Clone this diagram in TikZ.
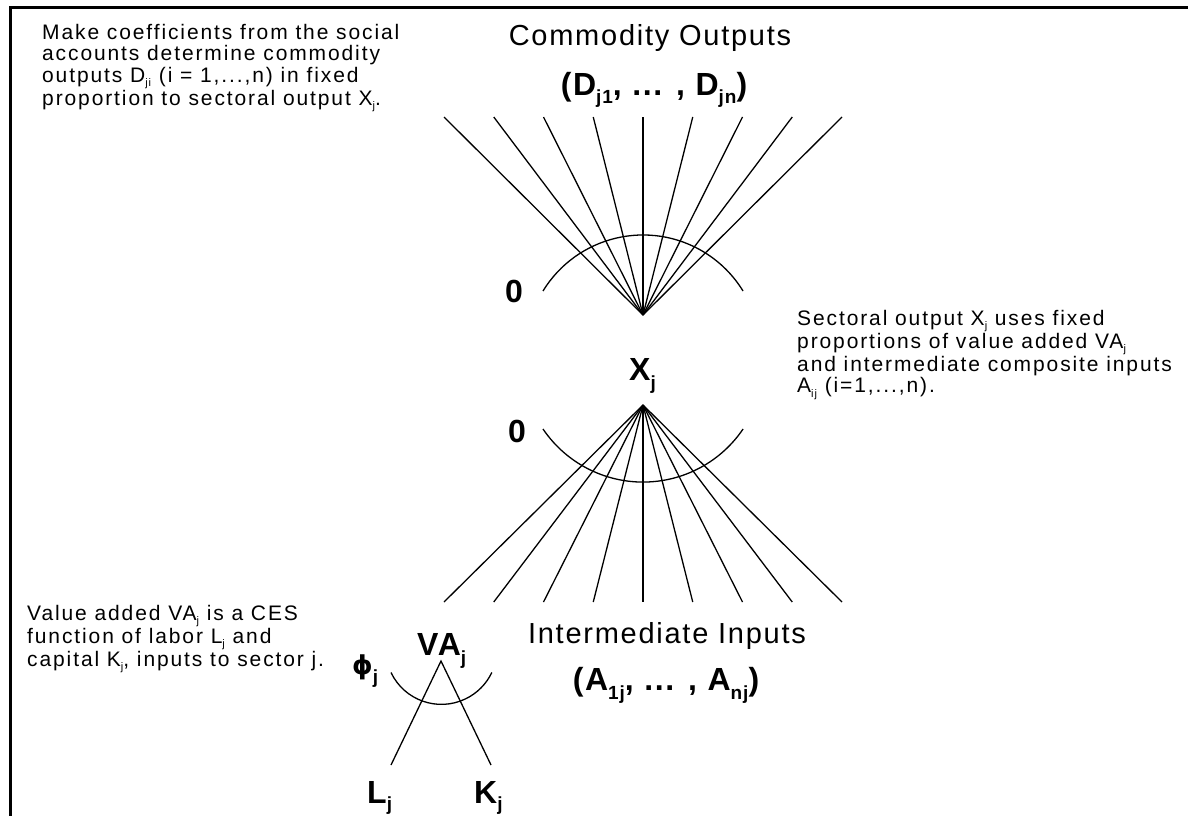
\documentclass[tikz,border=0pt]{standalone}
\usepackage{fontspec}
\newfontfamily\txtf{Liberation Sans}[LetterSpace=9]
\newfontfamily\labf{Liberation Sans}[LetterSpace=6]
\newfontfamily\labbf{Liberation Sans Bold}[LetterSpace=5]
\newfontfamily\phif{DejaVu Sans Bold}
\newcommand\ssb[1]{\raisebox{-4.5pt}{\fontsize{11}{11}\selectfont #1}}
\newcommand\bsb[1]{\raisebox{-9pt}{\fontsize{19}{19}\selectfont #1}}
\tikzset{
  txt/.style={font={\txtf\fontsize{21}{21.3}\selectfont}, align=left, inner sep=0pt, anchor=north west},
  lab/.style={font={\labf\fontsize{29}{31}\selectfont}, inner sep=0pt, anchor=base},
  blab/.style={font={\labbf\fontsize{32}{34}\selectfont}, inner sep=0pt, anchor=base west},
  ray/.style={line width=1.3pt},
  border/.style={line width=3pt}
}
\begin{document}
\begin{tikzpicture}[x=1pt,y=-1pt]
\useasboundingbox (0,0) rectangle (1188,816);
% frame
\coordinate (fb) at (10.5,816);
\coordinate (fc) at (10.5,7.5);
\coordinate (fr) at (1188,7.5);
\draw[border] (fb) -- (fc) -- (fr);

% texts
\node[txt] (t1) at (42,24) {Make coefficients from the social\\accounts determine commodity\\outputs D\ssb{ji} (i = 1,...,n) in fixed\\proportion to sectoral output X\ssb{j}.};
\node[txt] (t2) at (797,310) {Sectoral output X\ssb{j} uses fixed\\proportions of value added VA\ssb{j}\\and intermediate composite inputs\\A\ssb{ij} (i=1,...,n).};
\node[txt] (t3) at (27,605) {Value added VA\ssb{j} is a CES\\function of labor L\ssb{j} and\\capital K\ssb{j}, inputs to sector j.};

% labels
\node[lab] (co) at (650,46) {Commodity Outputs};
\node[blab,anchor=base] (dd) at (654,95) {(D\bsb{j1}, ... , D\bsb{jn})};
\node[blab,anchor=center] (z1) at (514,291) {0};
\node[blab] (xj) at (629,380) {X\bsb{j}};
\node[blab,anchor=center] (z2) at (517,431) {0};
\node[blab] (va) at (417,655) {VA\bsb{j}};
\node[blab,font={\phif\fontsize{26}{28}\selectfont}] (phi) at (352,674) {ϕ\bsb{\labbf j}};
\node[lab] (ii) at (667,643) {Intermediate Inputs};
\node[blab,anchor=base] (aa) at (666,690) {(A\bsb{1j}, ... , A\bsb{nj})};
\node[blab] (lj) at (367,803) {L\raisebox{-7pt}{\fontsize{19}{19}\selectfont j}};
\node[blab] (kj) at (474,803) {K\raisebox{-7pt}{\fontsize{19}{19}\selectfont j}};

% upper fan
\coordinate (up) at (643,315);
\foreach \i in {0,...,8}{
  \coordinate (u\i) at ({444+49.75*\i},117);
  \draw[ray] (up) -- (u\i);
}
\coordinate (ua) at (543,291);
\draw[ray] (ua) arc[start angle=-148.5, end angle=-31.5, radius=117.3];

% lower fan
\coordinate (lo) at (643,405);
\foreach \i in {0,...,8}{
  \coordinate (l\i) at ({444+49.75*\i},602);
  \draw[ray] (lo) -- (l\i);
}
\coordinate (la) at (543,429);
\draw[ray] (la) arc[start angle=145.9, end angle=34.1, radius=120.8];

% value added nest
\coordinate (vap) at (441,661);
\coordinate (vl) at (391,765);
\coordinate (vk) at (491,765);
\draw[ray] (vl) -- (vap) -- (vk);
\coordinate (vaa) at (391,672.5);
\draw[ray] (vaa) arc[start angle=154.6, end angle=25.4, radius=55.8];
\end{tikzpicture}
\end{document}
